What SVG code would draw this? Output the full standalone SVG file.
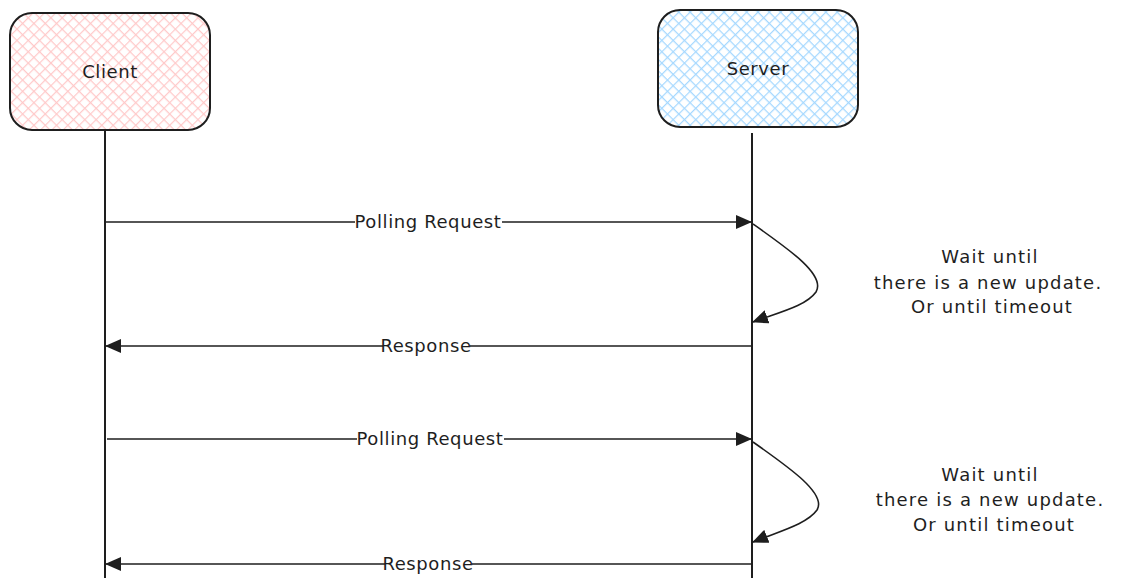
<svg xmlns="http://www.w3.org/2000/svg" width="1122" height="588" viewBox="0 0 1122 588">
<style>
.box{stroke:#1e1e1e;stroke-width:2;}
.life{stroke:#1e1e1e;stroke-width:2;fill:none;}
.msg{stroke:#1e1e1e;stroke-width:1.6;fill:none;marker-end:url(#ah);}
.t{font-family:"DejaVu Sans","Liberation Sans",sans-serif;font-size:18px;letter-spacing:0.6px;fill:#1e1e1e;text-anchor:middle;}
.n{letter-spacing:1.2px;}
.lb{fill:#ffffff;}
</style>
<defs>
<pattern id="hp" width="8" height="8" patternUnits="userSpaceOnUse" patternTransform="rotate(45)">
<rect width="8" height="8" fill="#ffffff"/>
<path d="M0 0 H8 M0 0 V8" stroke="#ffc9c9" stroke-width="2.4"/>
</pattern>
<pattern id="hb" width="8" height="8" patternUnits="userSpaceOnUse" patternTransform="rotate(45)">
<rect width="8" height="8" fill="#ffffff"/>
<path d="M0 0 H8 M0 0 V8" stroke="#a5d8ff" stroke-width="2.4"/>
</pattern>
<marker id="ah" markerWidth="16" markerHeight="14" refX="15" refY="7" orient="auto" markerUnits="userSpaceOnUse">
<path d="M0 0 L16 7 L0 14 Z" fill="#1e1e1e"/>
</marker>
</defs>
<rect width="1122" height="588" fill="#ffffff"/>
<g id="client">
<rect class="box" x="10" y="13" width="200" height="117" rx="22" fill="url(#hp)"/>
<text class="t" x="110" y="78">Client</text>
</g>
<g id="server">
<rect class="box" x="658" y="10" width="200" height="117" rx="22" fill="url(#hb)"/>
<text class="t" x="758" y="75">Server</text>
</g>
<g id="lifelines">
<line class="life" x1="105" y1="131" x2="105" y2="578"/>
<line class="life" x1="752" y1="133" x2="752" y2="578"/>
</g>
<g id="connectors">
<line class="msg" x1="106" y1="222" x2="751" y2="222"/>
<rect class="lb" x="355" y="210" width="147" height="24"/>
<text class="t" x="428" y="228">Polling Request</text>
<path class="msg" d="M753 224 C790 250 826 275 816 292 C806 306 780 312 753 322"/>
<line class="msg" x1="751" y1="346" x2="106" y2="346"/>
<rect class="lb" x="383" y="334" width="87" height="24"/>
<text class="t" x="426" y="352">Response</text>
<line class="msg" x1="107" y1="439" x2="751" y2="439"/>
<rect class="lb" x="357" y="427" width="147" height="24"/>
<text class="t" x="430" y="445">Polling Request</text>
<path class="msg" d="M753 442 C790 468 827 494 817 510 C807 524 780 531 753 542"/>
<line class="msg" x1="751" y1="564" x2="106" y2="564"/>
<rect class="lb" x="385" y="552" width="87" height="24"/>
<text class="t" x="428" y="570">Response</text>
</g>
<g id="note1">
<text class="t n" x="990" y="263">Wait until</text>
<text class="t n" x="988" y="289">there is a new update.</text>
<text class="t n" x="992" y="313">Or until timeout</text>
</g>
<g id="note2">
<text class="t n" x="990" y="481">Wait until</text>
<text class="t n" x="990" y="506">there is a new update.</text>
<text class="t n" x="994" y="531">Or until timeout</text>
</g>
</svg>
